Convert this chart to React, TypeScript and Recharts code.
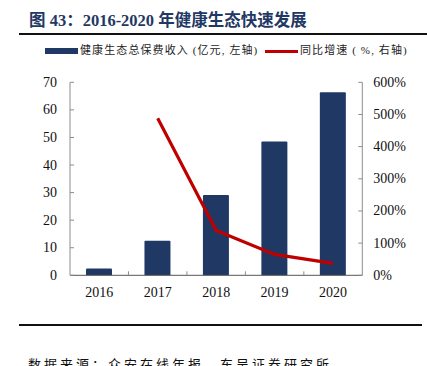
import React from 'react';
import { ComposedChart, Bar, Line, XAxis, YAxis } from 'recharts';

const years = ['2016', '2017', '2018', '2019', '2020'];
const premium = [2.5, 12.5, 29.1, 48.5, 66.4];
const growth: (number | null)[] = [null, 488, 139, 65, 37];
const leftTicks = [0, 10, 20, 30, 40, 50, 60, 70];
const rightTicks = [0, 100, 200, 300, 400, 500, 600];

const titleText = '图 43：2016-2020 年健康生态快速发展';
const legendBar = '健康生态总保费收入 (亿元, 左轴)';
const legendLine = '同比增速 ( %, 右轴)';
const footerText = '数据来源：众安在线年报，东吴证券研究所';

const data = years.map((y, i) => ({ year: y, premium: premium[i], growth: growth[i] }));

const W = 427;
const H = 366;
const PLOT_LEFT = 70;
const PLOT_RIGHT = 362.3;
const PLOT_TOP = 82.3;
const PLOT_BOTTOM = 275.3;
const LEFT_AXIS_W = 40;
const RIGHT_AXIS_W = 50;
const X_AXIS_H = 30;
const BAND = (PLOT_RIGHT - PLOT_LEFT) / years.length;

const NAVY = '#1F3864';
const RED = '#C00000';
const AXIS = '#8c8c8c';
const SERIF = '"Liberation Serif", "Times New Roman", serif';
const CJK = '"Noto Sans CJK SC", sans-serif';

const LeftTick = (props: any) => {
  const { x, y, payload } = props;
  const ax = x + 13;
  return (
    <g>
      <line x1={ax} x2={ax + 4} y1={y} y2={y} stroke={AXIS} strokeWidth={1} />
      <text x={x} y={y} textAnchor="end" dominantBaseline="central" fontFamily={SERIF} fontSize={14} fill="#111">
        {payload.value}
      </text>
    </g>
  );
};

const RightTick = (props: any) => {
  const { x, y, payload } = props;
  const ax = x - 11;
  return (
    <g>
      <line x1={ax} x2={ax - 4} y1={y} y2={y} stroke={AXIS} strokeWidth={1} />
      <text x={x} y={y} textAnchor="start" dominantBaseline="central" fontFamily={SERIF} fontSize={14} fill="#111">
        {payload.value}%
      </text>
    </g>
  );
};

const XTick = (props: any) => {
  const { x, y, payload, index } = props;
  const bx = x - BAND / 2;
  return (
    <g>
      {index > 0 && <line x1={bx} x2={bx} y1={y} y2={y - 4} stroke={AXIS} strokeWidth={1} />}
      <text x={x} y={y + 17.5} textAnchor="middle" dominantBaseline="central" fontFamily={SERIF} fontSize={14} fill="#111">
        {payload.value}
      </text>
    </g>
  );
};

export default function App() {
  return (
    <div style={{ position: 'absolute', left: 0, top: 0, width: W, height: H, background: '#fff', overflow: 'hidden' }}>
      <div
        style={{
          position: 'absolute',
          left: 29,
          top: 10,
          fontFamily: `${SERIF}, ${CJK}`,
          fontWeight: 700,
          fontSize: 16.5,
          color: NAVY,
          whiteSpace: 'nowrap',
          lineHeight: '22px',
        }}
      >
        {titleText}
      </div>
      <div style={{ position: 'absolute', left: 19, top: 33.3, width: 408, height: 2, background: '#111' }} />

      <div style={{ position: 'absolute', left: 45, top: 48, width: 33, height: 6, background: NAVY }} />
      <div
        style={{
          position: 'absolute',
          left: 80,
          top: 42,
          fontFamily: `${SERIF}, ${CJK}`,
          fontSize: 11,
          letterSpacing: 1.1,
          color: '#222',
          whiteSpace: 'nowrap',
          lineHeight: '16px',
        }}
      >
        {legendBar}
      </div>
      <div style={{ position: 'absolute', left: 265, top: 50, width: 33, height: 3, background: RED }} />
      <div
        style={{
          position: 'absolute',
          left: 300,
          top: 42,
          fontFamily: `${SERIF}, ${CJK}`,
          fontSize: 11,
          letterSpacing: 1.1,
          color: '#222',
          whiteSpace: 'nowrap',
          lineHeight: '16px',
        }}
      >
        {legendLine}
      </div>

      <div style={{ position: 'absolute', left: 0, top: 0 }}>
        <ComposedChart
          width={W}
          height={H}
          data={data}
          margin={{
            top: PLOT_TOP,
            left: PLOT_LEFT - LEFT_AXIS_W,
            right: W - PLOT_RIGHT - RIGHT_AXIS_W,
            bottom: H - PLOT_BOTTOM - X_AXIS_H,
          }}
        >
          <XAxis
            dataKey="year"
            height={X_AXIS_H}
            tickLine={false}
            tickSize={0}
            tickMargin={0}
            axisLine={{ stroke: '#555', strokeWidth: 1 }}
            tick={<XTick />}
            interval={0}
          />
          <YAxis
            yAxisId="left"
            orientation="left"
            width={LEFT_AXIS_W}
            domain={[0, 70]}
            ticks={leftTicks}
            tickLine={false}
            tickSize={0}
            tickMargin={13}
            axisLine={{ stroke: AXIS, strokeWidth: 1 }}
            tick={<LeftTick />}
            interval={0}
          />
          <YAxis
            yAxisId="right"
            orientation="right"
            width={RIGHT_AXIS_W}
            domain={[0, 600]}
            ticks={rightTicks}
            tickLine={false}
            tickSize={0}
            tickMargin={11}
            axisLine={{ stroke: AXIS, strokeWidth: 1 }}
            tick={<RightTick />}
            interval={0}
          />
          <Bar yAxisId="left" dataKey="premium" fill={NAVY} barSize={26} isAnimationActive={false} radius={[1, 1, 0, 0]} />
          <Line
            yAxisId="right"
            dataKey="growth"
            stroke={RED}
            strokeWidth={3.2}
            dot={false}
            activeDot={false}
            type="linear"
            connectNulls={false}
            isAnimationActive={false}
          />
        </ComposedChart>
      </div>

      <div style={{ position: 'absolute', left: 19, top: 324, width: 403, height: 2, background: '#111' }} />
      <div
        style={{
          position: 'absolute',
          left: 28,
          top: 354,
          fontFamily: CJK,
          fontSize: 13,
          letterSpacing: 3,
          color: '#111',
          whiteSpace: 'nowrap',
          lineHeight: '20px',
        }}
      >
        {footerText}
      </div>
    </div>
  );
}
